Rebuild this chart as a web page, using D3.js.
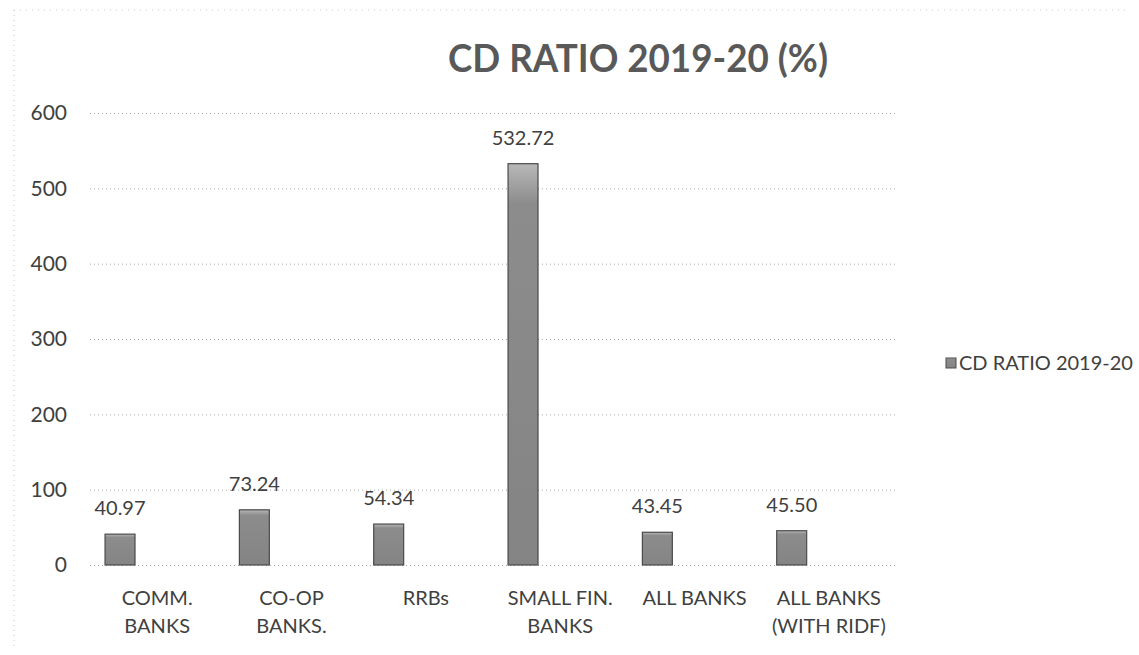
<!DOCTYPE html>
<html>
<head>
<meta charset="utf-8">
<script src="https://cdn.jsdelivr.net/npm/d3@7"></script>
<style>
  body { margin: 0; background: #fff; }
  svg text { font-family: Lato, "Open Sans", sans-serif; }
</style>
</head>
<body>
<div id="chart"></div>
<script>
'use strict';

const categories = [
  ['COMM.', 'BANKS'],
  ['CO-OP', 'BANKS.'],
  ['RRBs'],
  ['SMALL FIN.', 'BANKS'],
  ['ALL BANKS'],
  ['ALL BANKS', '(WITH RIDF)']
];
const values = [40.97, 73.24, 54.34, 532.72, 43.45, 45.50];
const yTicks = [0, 100, 200, 300, 400, 500, 600];
const seriesName = 'CD RATIO 2019-20';
const title = 'CD RATIO 2019-20 (%)';

const width = 1139, height = 655;
const margin = { top: 113, left: 90 };
const plotW = 806;
const plotH = 565 - margin.top;

const svg = d3.select('#chart').append('svg')
    .attr('width', width)
    .attr('height', height);

// gradient for bars
const defs = svg.append('defs');
const grad = defs.append('linearGradient')
    .attr('id', 'barGrad').attr('x1', 0).attr('y1', 0).attr('x2', 0).attr('y2', 1);
grad.append('stop').attr('offset', '0%').attr('stop-color', '#b8b8b8');
grad.append('stop').attr('offset', '10%').attr('stop-color', '#8c8c8c');
grad.append('stop').attr('offset', '100%').attr('stop-color', '#848484');

// faint scan border
svg.append('line')
    .attr('x1', 14).attr('x2', 14).attr('y1', 10).attr('y2', 650)
    .attr('stroke', '#c8c8c8').attr('stroke-dasharray', '1,4');
svg.append('line')
    .attr('x1', 14).attr('x2', 1130).attr('y1', 10).attr('y2', 10)
    .attr('stroke', '#d0d0d0').attr('stroke-dasharray', '1,5');

const g = svg.append('g')
    .attr('transform', 'translate(' + margin.left + ',' + margin.top + ')');

const x = d3.scaleBand()
    .domain(d3.range(categories.length))
    .range([0, plotW]);

const y = d3.scaleLinear()
    .domain([0, 600])
    .range([plotH, 0]);

// gridlines + y labels
const yAxis = d3.axisLeft(y)
    .tickValues(yTicks)
    .tickSizeInner(-plotW)
    .tickSizeOuter(0)
    .tickPadding(23);

const ya = g.append('g').attr('class', 'y axis').call(yAxis);
ya.attr('font-family', null);
ya.select('.domain').remove();
ya.selectAll('line')
    .attr('stroke', '#a8a8a8')
    .attr('stroke-width', 1)
    .attr('stroke-dasharray', '1,3');
ya.selectAll('text')
    .attr('fill', '#404040')
    .style('font-size', '21px');

// bars
const bw = x.bandwidth() * 0.223;
const boff = x.bandwidth() * 0.112;

g.selectAll('rect.bar')
    .data(values)
    .enter().append('rect')
    .attr('class', 'bar')
    .attr('x', (d, i) => x(i) + boff)
    .attr('y', d => y(d))
    .attr('width', bw)
    .attr('height', d => y(0) - y(d))
    .attr('fill', 'url(#barGrad)')
    .attr('stroke', '#4a4a4a')
    .attr('stroke-width', 1.2);

// value labels
g.selectAll('text.val')
    .data(values)
    .enter().append('text')
    .attr('class', 'val')
    .attr('x', (d, i) => x(i) + boff + bw / 2)
    .attr('y', d => y(d) - 19)
    .attr('text-anchor', 'middle')
    .attr('fill', '#404040')
    .style('font-size', '20px')
    .text(d => d.toFixed(2));

// category labels
const cat = g.selectAll('text.cat')
    .data(categories)
    .enter().append('text')
    .attr('class', 'cat')
    .attr('text-anchor', 'middle')
    .attr('fill', '#404040')
    .style('font-size', '20px')
    .attr('transform', (d, i) => 'translate(' + (x(i) + x.bandwidth() / 2) + ',' + (y(0) + 40) + ')');
cat.selectAll('tspan')
    .data(d => d)
    .enter().append('tspan')
    .attr('x', 0)
    .attr('dy', (d, i) => i === 0 ? 0 : 28)
    .text(d => d);

// title
svg.append('text')
    .attr('x', 448)
    .attr('y', 72)
    .attr('textLength', 380)
    .attr('lengthAdjust', 'spacingAndGlyphs')
    .attr('fill', '#595959')
    .style('font-size', '38px')
    .style('font-weight', 'bold')
    .text(title);

// legend
const leg = svg.append('g').attr('transform', 'translate(946,358)');
leg.append('rect')
    .attr('width', 10).attr('height', 10)
    .attr('fill', 'url(#barGrad)')
    .attr('stroke', '#4a4a4a');
leg.append('text')
    .attr('x', 13).attr('y', 12)
    .attr('fill', '#404040')
    .style('font-size', '20px')
    .text(seriesName);
</script>
</body>
</html>
